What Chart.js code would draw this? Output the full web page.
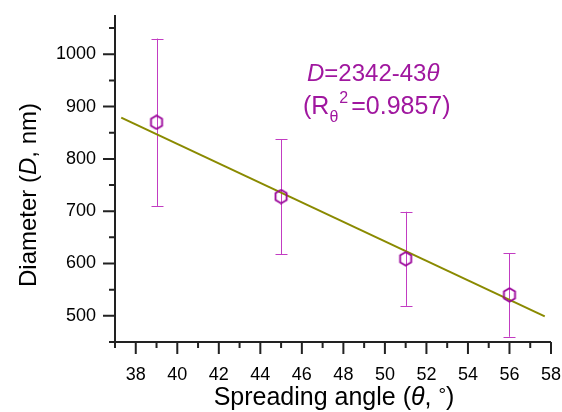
<!DOCTYPE html>
<html>
<head>
<meta charset="utf-8">
<script src="https://cdn.jsdelivr.net/npm/chart.js@4"></script>
<style>
  html, body { margin: 0; padding: 0; background: #fff; overflow: hidden; }
  #wrap { width: 562px; height: 412px; position: relative; }
</style>
</head>
<body>
<div id="wrap"><canvas id="chart"></canvas></div>
<script>
// data
const thetaVals = [39, 45, 51, 56];
const diameterVals = [870, 728, 609, 540];
const diameterErr = [160, 110, 90, 80];

// fitted line end points
const fitTheta = [37.3, 57.7];
const fitDiameter = [879, 499];

const xTickVals = [38, 40, 42, 44, 46, 48, 50, 52, 54, 56, 58];
const yTickVals = [500, 600, 700, 800, 900, 1000];

const FONT = "'Liberation Sans', Arial, sans-serif";
const PURPLE = '#990099';
const BAR = '#c23cc2';
const TEXT_PURPLE = '#a0179f';
const OLIVE = '#8a8a00';
const AXIS = '#222';

// hollow hexagon marker
function hexMarker() {
    const c = document.createElement('canvas');
    c.width = 16; c.height = 16;
    const g = c.getContext('2d');
    g.strokeStyle = PURPLE;
    g.lineWidth = 1.8;
    g.beginPath();
    for (let k = 0; k < 6; k++) {
        const a = (-90 + k * 60) * Math.PI / 180;
        const px = 8 + 6.4 * Math.cos(a), py = 8 + 6.8 * Math.sin(a);
        if (k === 0) g.moveTo(px, py); else g.lineTo(px, py);
    }
    g.closePath();
    g.stroke();
    return c;
}

// draw text made of runs with different styles
function runsWidth(ctx, runs) {
    let w = 0;
    runs.forEach(r => { ctx.font = r.font; w += ctx.measureText(r.t).width + (r.adv || 0); });
    return w;
}
function drawRuns(ctx, x, y, runs) {
    runs.forEach(r => {
        ctx.font = r.font;
        ctx.fillText(r.t, x, y + (r.dy || 0));
        x += ctx.measureText(r.t).width + (r.adv || 0);
    });
}

// keep the plot box where the reference has it
function noPad(s) {
    s.paddingLeft = s.paddingRight = s.paddingTop = s.paddingBottom = 0;
}

const decor = {
    id: 'decor',
    beforeDatasetsDraw(chart) {
        const { ctx, scales: { x, y } } = chart;
        ctx.save();
        ctx.strokeStyle = BAR;
        ctx.lineWidth = 1;
        thetaVals.forEach((t, i) => {
            const px = Math.round(x.getPixelForValue(t)) + 0.5;
            const top = y.getPixelForValue(diameterVals[i] + diameterErr[i]);
            const bot = y.getPixelForValue(diameterVals[i] - diameterErr[i]);
            ctx.beginPath();
            ctx.moveTo(px, top); ctx.lineTo(px, bot);
            ctx.moveTo(px - 6, Math.round(top) + 0.5); ctx.lineTo(px + 6, Math.round(top) + 0.5);
            ctx.moveTo(px - 6, Math.round(bot) + 0.5); ctx.lineTo(px + 6, Math.round(bot) + 0.5);
            ctx.stroke();
        });
        ctx.restore();
    },
    afterDraw(chart) {
        const { ctx, chartArea: a, scales: { x, y } } = chart;
        ctx.save();
        ctx.strokeStyle = AXIS;
        ctx.lineWidth = 2;
        ctx.beginPath();
        ctx.moveTo(a.left, a.top); ctx.lineTo(a.left, a.bottom);
        ctx.moveTo(a.left, a.bottom); ctx.lineTo(a.right, a.bottom);
        // x ticks, major every 2, minor every 1
        for (let v = 37; v <= 58; v++) {
            const px = x.getPixelForValue(v);
            const len = v % 2 === 0 ? 12 : 6;
            ctx.moveTo(px, a.bottom); ctx.lineTo(px, a.bottom + len);
        }
        // y ticks, major every 100, minor every 50
        for (let v = 450; v <= 1050; v += 50) {
            const py = y.getPixelForValue(v);
            const len = v % 100 === 0 ? 12 : 6;
            ctx.moveTo(a.left, py); ctx.lineTo(a.left - len, py);
        }
        ctx.stroke();

        // axis titles
        ctx.fillStyle = '#000';
        ctx.textBaseline = 'alphabetic';
        ctx.textAlign = 'left';
        const n = '24px ' + FONT, it = 'italic 24px ' + FONT;
        const n25 = '25px ' + FONT, it25 = 'italic 25px ' + FONT;
        const xt = [
            { t: 'Spreading angle (', font: n25 },
            { t: 'θ', font: it25 },
            { t: ', ', font: n25 },
            { t: '°', font: '19px ' + FONT, dy: -4 },
            { t: ')', font: n25 }
        ];
        const xw = runsWidth(ctx, xt);
        drawRuns(ctx, 334 - xw / 2, 405, xt);

        const yt = [
            { t: 'Diameter (', font: n },
            { t: 'D', font: it },
            { t: ', nm)', font: n }
        ];
        const yw = runsWidth(ctx, yt);
        ctx.save();
        ctx.translate(36, 195);
        ctx.rotate(-Math.PI / 2);
        drawRuns(ctx, -yw / 2, 0, yt);
        ctx.restore();

        // fit annotation
        ctx.fillStyle = TEXT_PURPLE;
        drawRuns(ctx, 307, 81, [
            { t: 'D', font: it },
            { t: '=2342-43', font: n },
            { t: 'θ', font: it }
        ]);
        drawRuns(ctx, 303, 114, [
            { t: '(R', font: n25 },
            { t: 'θ', font: '16px ' + FONT, dy: 8, adv: 1 },
            { t: '2', font: '16px ' + FONT, dy: -11, adv: 3 },
            { t: '=0.9857)', font: n25 }
        ]);
        ctx.restore();
    }
};

new Chart(document.getElementById('chart'), {
    type: 'scatter',
    data: {
        datasets: [
            {
                type: 'line',
                label: 'Fit',
                data: fitTheta.map((t, i) => ({ x: t, y: fitDiameter[i] })),
                borderColor: OLIVE,
                borderWidth: 2,
                pointRadius: 0,
                fill: false,
                order: 2
            },
            {
                label: 'Diameter',
                data: thetaVals.map((t, i) => ({ x: t, y: diameterVals[i] })),
                pointStyle: hexMarker(),
                pointRadius: 7,
                order: 1
            }
        ]
    },
    options: {
        responsive: true,
        maintainAspectRatio: false,
        animation: false,
        layout: { padding: { left: 0, top: 15, right: 11, bottom: 0 } },
        plugins: {
            legend: { display: false },
            tooltip: { enabled: false }
        },
        scales: {
            x: {
                type: 'linear',
                min: 37,
                max: 58,
                grid: { display: false, drawTicks: false },
                border: { display: false },
                afterBuildTicks: s => { s.ticks = xTickVals.map(v => ({ value: v })); },
                afterFit: s => { s.height = 70; noPad(s); },
                ticks: {
                    padding: 22,
                    maxRotation: 0,
                    autoSkip: false,
                    color: '#000',
                    font: { family: FONT, size: 18 },
                    callback: v => String(v)
                }
            },
            y: {
                type: 'linear',
                min: 450,
                max: 1075,
                grid: { display: false, drawTicks: false },
                border: { display: false },
                afterBuildTicks: s => { s.ticks = yTickVals.map(v => ({ value: v })); },
                afterFit: s => { s.width = 115; noPad(s); },
                ticks: {
                    padding: 19,
                    autoSkip: false,
                    color: '#000',
                    font: { family: FONT, size: 18 },
                    callback: v => String(v)
                }
            }
        }
    },
    plugins: [decor]
});
</script>
</body>
</html>
